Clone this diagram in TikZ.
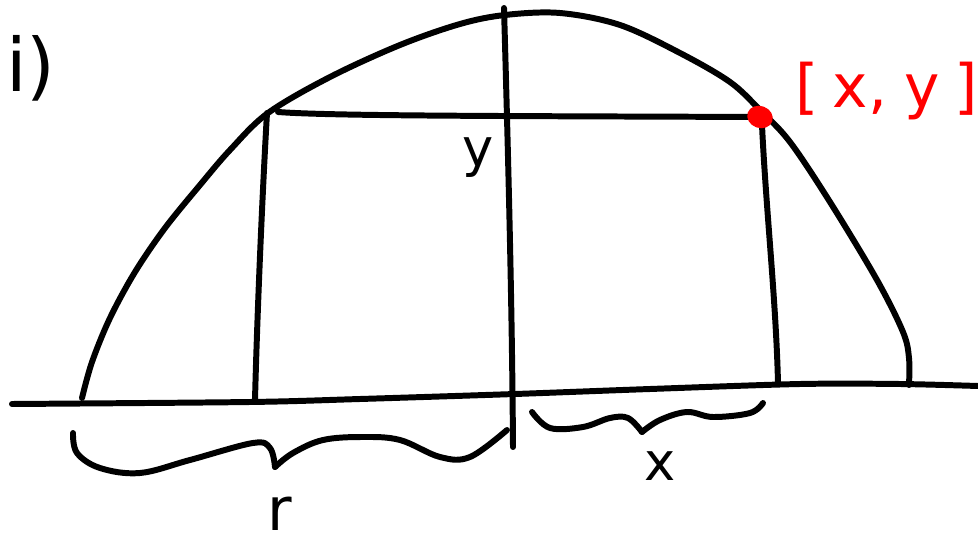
\documentclass[tikz,border=0pt]{standalone}
\usepackage{fontspec}
\setmainfont{DejaVu Sans}
\usepackage{tikz}
\usetikzlibrary{positioning}

\tikzset{
  pen/.style={line width=3.4pt, line cap=round, line join=round},
  handtext/.style={inner sep=0pt, font=\fontsize{30}{34}\selectfont}
}

\begin{document}
\begin{tikzpicture}[x=0.2mm, y=-0.2mm]

% Page frame (pixel grid, y downwards)
\clip (0,0) rectangle (978,545);
\fill[white] (0,0) rectangle (978,545);

% ============================
% GROUND AND AXIS
% ============================

\draw[pen] plot[smooth, tension=0.5] coordinates
  {(12,404) (250,402) (360,399) (515,394) (650,389) (800,384) (900,384) (978,386)};

\coordinate (axtop) at (504,8);
\coordinate (axbot) at (513,447);
\draw[pen] (axtop) .. controls (508,150) and (512,300) .. (axbot);

% ============================
% ARCH
% ============================

\draw[pen] plot[smooth, tension=0.55] coordinates
  {(82,398) (92,362) (110,318) (135,272) (165,228) (200,185) (230,150)
   (268,113) (330,77) (400,45) (460,24) (505,15) (560,13) (620,25)
   (680,53) (730,82) (760,110) (790,142) (830,202) (877,280) (903,332)
   (909,358) (909,385)};

% ============================
% RECTANGLE UNDER THE ARCH
% ============================

\coordinate (topL) at (278,112);
\coordinate (topR) at (760,117);
\coordinate (legL) at (267,113);
\coordinate (footL) at (255,400);
\coordinate (legR) at (762,125);
\coordinate (footR) at (778,383);

\draw[pen] (topL) .. controls (330,116) and (500,116) .. (topR);
\draw[pen] (legL) .. controls (262,200) and (257,320) .. (footL);
\draw[pen] (legR) .. controls (766,210) and (776,300) .. (footR);

% Corner point on the arch
\fill[red] (topR) ellipse [x radius=13, y radius=11, rotate=-20];
\node[handtext, red, anchor=base west, font=\fontsize{34}{38}\selectfont] (corner) at (795,108)
  {[\hspace{8pt}x,\hspace{10pt}y\hspace{8pt}]};

\node[handtext] (ylab) at (478,158) {y};

% ============================
% BRACES
% ============================

% Left brace (length r)
\draw[pen] plot[smooth, tension=0.6] coordinates
  {(73,433) (77,453) (100,468) (140,473) (190,460) (253,443) (270,448) (275,467)};
\draw[pen] plot[smooth, tension=0.6] coordinates
  {(275,467) (293,453) (323,440) (363,437) (400,440) (440,457) (470,457) (507,430)};
\node[handtext, font=\fontsize{34}{38}\selectfont] (rlab) at (280,514) {r};

% Right brace (length x)
\draw[pen] plot[smooth, tension=0.6] coordinates
  {(532,412) (550,428) (583,427) (610,418) (628,418) (642,432)};
\draw[pen] plot[smooth, tension=0.6] coordinates
  {(642,432) (660,420) (687,412) (713,417) (750,413) (763,403)};
\node[handtext] (xlab) at (660,466) {x};

% Part label, cut at the page edge
\node[inner sep=0pt, anchor=east, font=\fontsize{42}{46}\selectfont] (part) at (56,68) {i)};

\end{tikzpicture}
\end{document}
